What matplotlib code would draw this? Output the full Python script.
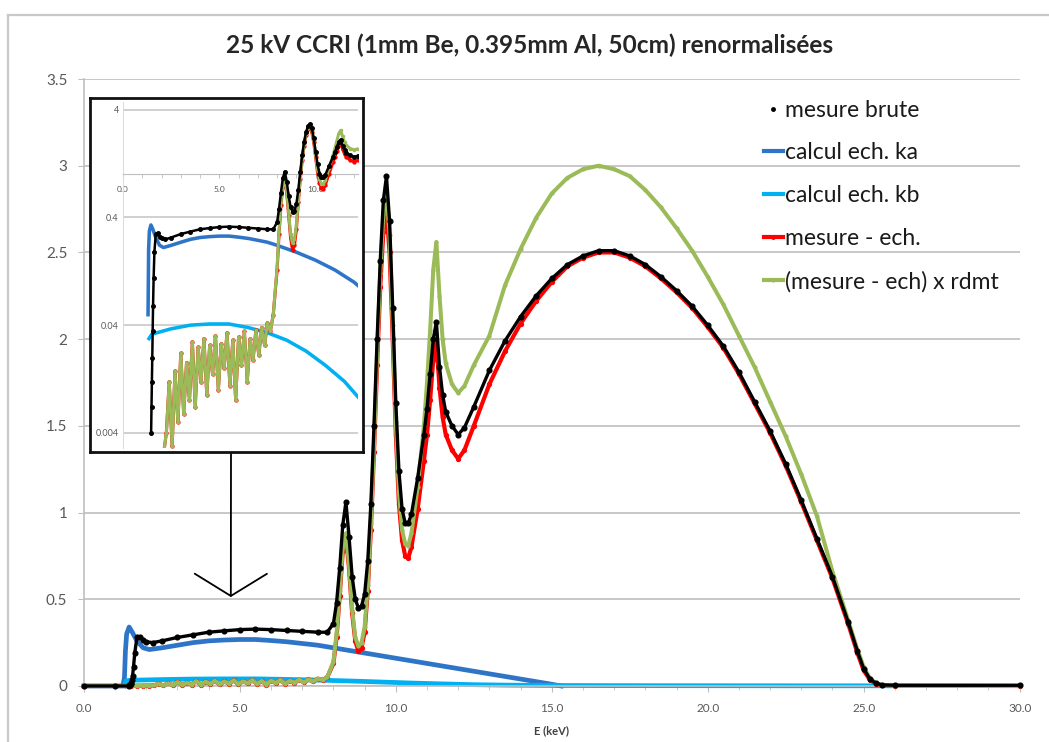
import matplotlib.pyplot as plt
from matplotlib.lines import Line2D
from matplotlib.ticker import MultipleLocator, FixedLocator

plt.rcParams['font.family'] = ['Lato', 'DejaVu Sans']

# ---- data (E in keV) ----
e_brute_low = [0.0, 1.0, 1.44, 1.46, 1.48, 1.5, 1.52, 1.54, 1.56, 1.59, 1.63, 1.7, 1.8, 1.9,
               2.0, 2.2, 2.5, 3.0, 3.5, 4.0, 4.5, 5.0, 5.5, 6.0, 6.5, 7.0, 7.5, 7.8]
v_brute_low = [0, 0, 0, 0.004, 0.007, 0.012, 0.02, 0.035, 0.06, 0.11, 0.19, 0.28, 0.285, 0.265,
               0.255, 0.25, 0.26, 0.28, 0.295, 0.31, 0.318, 0.325, 0.328, 0.325, 0.32, 0.315, 0.31, 0.31]

e_peak = [7.8, 8.0, 8.1, 8.2, 8.3, 8.4, 8.5, 8.6, 8.7, 8.8,
          8.9, 9.0, 9.1, 9.2, 9.3, 9.4, 9.5, 9.6, 9.7, 9.8,
          9.9, 10.0, 10.1, 10.2, 10.3, 10.4, 10.5, 10.7, 10.9, 11.0,
          11.1, 11.2, 11.3, 11.4, 11.5, 11.6, 11.8, 12.0, 12.2, 12.5,
          13.0, 13.5, 14.0, 14.5, 15.0, 15.5, 16.0, 16.5, 17.0, 17.5,
          18.0, 18.5, 19.0, 19.5, 20.0, 20.5, 21.0, 21.5, 22.0, 22.5,
          23.0, 23.5, 24.0, 24.5, 24.8, 25.0, 25.2, 25.4, 25.6, 26.0,
          30.0]

v_brute_peak = [0.36, 0.48, 0.68, 0.93, 1.06, 0.86, 0.63, 0.5, 0.45,
                0.46, 0.53, 0.72, 1.05, 1.5, 2.0, 2.45, 2.8, 2.94, 2.68,
                2.18, 1.63, 1.24, 1.02, 0.94, 0.94, 0.99, 1.2, 1.45, 1.6,
                1.8, 2.0, 2.1, 1.84, 1.68, 1.58, 1.5, 1.45, 1.49, 1.61,
                1.82, 1.99, 2.13, 2.25, 2.35, 2.43, 2.48, 2.51, 2.51, 2.48,
                2.43, 2.36, 2.28, 2.19, 2.08, 1.96, 1.81, 1.64, 1.47, 1.28,
                1.07, 0.85, 0.63, 0.37, 0.2, 0.1, 0.04, 0.015, 0.006, 0.004,
                0.004]

e_low = [0.0, 1.4, 1.5, 1.7, 1.9, 2.1,
         2.25, 2.4, 2.55, 2.7, 2.85, 3.0, 3.15, 3.3, 3.45, 3.6, 3.75, 3.9, 4.05,
         4.2, 4.35, 4.5, 4.65, 4.8, 4.95, 5.1, 5.25, 5.4, 5.55, 5.7, 5.85, 6.0,
         6.15, 6.3, 6.45, 6.6, 6.75, 6.9, 7.05, 7.2, 7.35, 7.5, 7.65]
v_low = [0, 0, 0.001, 0.0015, 0.002, 0.0025,
         0.004, 0.012, 0.003, 0.015, 0.005, 0.022, 0.006, 0.018, 0.008, 0.028, 0.007, 0.025, 0.012,
         0.030, 0.009, 0.026, 0.014, 0.032, 0.010, 0.027, 0.016, 0.034, 0.011, 0.029, 0.008, 0.031,
         0.017, 0.035, 0.012, 0.030, 0.019, 0.036, 0.021, 0.038, 0.026, 0.042, 0.035]

v_red_peak = [0.05, 0.13, 0.28, 0.52, 0.78, 0.86, 0.68, 0.42, 0.26, 0.20,
              0.22, 0.31, 0.55, 0.9, 1.35, 1.85, 2.3, 2.62, 2.74, 2.5,
              2.0, 1.45, 1.05, 0.84, 0.75, 0.74, 0.8, 1.02, 1.3, 1.45,
              1.65, 1.88, 1.99, 1.72, 1.55, 1.45, 1.36, 1.31, 1.36, 1.5,
              1.74, 1.93, 2.09, 2.22, 2.33, 2.42, 2.47, 2.5, 2.5, 2.47,
              2.42, 2.35, 2.27, 2.18, 2.07, 1.95, 1.8, 1.63, 1.46, 1.27,
              1.06, 0.84, 0.62, 0.36, 0.19, 0.09, 0.035, 0.012, 0.004, 0.001,
              0.0]

v_green_peak = [0.05, 0.14, 0.3, 0.55, 0.8, 0.88, 0.7, 0.44, 0.28, 0.23,
                0.25, 0.34, 0.58, 0.94, 1.4, 1.92, 2.38, 2.72, 2.85, 2.6,
                2.08, 1.52, 1.12, 0.9, 0.82, 0.81, 0.88, 1.15, 1.5, 1.75,
                2.05, 2.4, 2.56, 2.25, 2.0, 1.86, 1.74, 1.69, 1.73, 1.85,
                2.02, 2.31, 2.52, 2.7, 2.84, 2.93, 2.98, 3.0, 2.98, 2.94,
                2.86, 2.76, 2.64, 2.51, 2.36, 2.2, 2.02, 1.84, 1.64, 1.44,
                1.22, 0.98, 0.66, 0.38, 0.21, 0.11, 0.045, 0.015, 0.005, 0.001,
                0.0]

e_ka = [0.0, 1.25, 1.3, 1.33, 1.37, 1.45, 1.55, 1.7, 1.9, 2.1, 2.5, 3.0, 3.5, 4.0, 4.5,
        5.0, 5.5, 6.0, 6.5, 7.0, 7.5, 8.0, 9.0, 10.0, 11.0, 12.0, 13.0, 14.0, 15.0, 15.3]
v_ka = [0, 0, 0.05, 0.2, 0.3, 0.34, 0.31, 0.26, 0.22, 0.21, 0.22, 0.235, 0.25, 0.26, 0.265,
        0.268, 0.268, 0.262, 0.255, 0.245, 0.235, 0.22, 0.19, 0.16, 0.13, 0.10, 0.07, 0.04, 0.01, 0.0]

e_kb = [1.3, 1.35, 1.5, 2.5, 3.5, 4.5, 5.5, 6.5, 7.5, 8.5, 9.5, 10.5, 11.5, 12.5, 13.5,
        15.0, 17.0, 20.0, 23.0, 26.0]
v_kb = [0.0, 0.03, 0.033, 0.037, 0.04, 0.041, 0.041, 0.038, 0.034, 0.029, 0.023, 0.017, 0.012,
        0.0075, 0.005, 0.003, 0.002, 0.0015, 0.001, 0.001]

e_brute = e_brute_low + e_peak[1:]
v_brute = v_brute_low + v_brute_peak
e_meas = e_low + e_peak
v_red = v_low + v_red_peak
v_green = v_low + v_green_peak

c_black = '#000000'
c_ka = '#2E75C8'
c_kb = '#00B0F0'
c_red = '#FF0000'
c_green = '#9BBB59'
c_txt = '#595959'
c_grid = '#C4C4C4'


def draw_series(a, scale=1.0, clip=True):
    a.plot(e_ka, v_ka, color=c_ka, lw=3.4 * scale, zorder=2, clip_on=clip)
    a.plot(e_kb, v_kb, color=c_kb, lw=3.4 * scale, zorder=2, clip_on=clip)
    a.plot(e_meas, v_red, color=c_red, lw=3.0 * scale, marker='o', ms=2.8 * scale, zorder=3,
           clip_on=clip)
    a.plot(e_meas, v_green, color=c_green, lw=2.9 * scale, marker='o', ms=2.0 * scale, zorder=4,
           clip_on=clip)
    a.plot(e_brute, v_brute, color=c_black, lw=2.4 * scale, zorder=5, clip_on=clip)
    a.plot(e_brute, v_brute, ls='none', color=c_black, marker='o', ms=3.4 * scale, zorder=5,
           clip_on=clip)


fig = plt.figure(figsize=(10.49, 7.42), dpi=100)

# light frame around the chart area (only top and left edge visible)
fig.add_artist(Line2D([8 / 1049, 8 / 1049], [0, 1 - 15 / 742], transform=fig.transFigure,
                      color='#C8C8C8', lw=1.6))
fig.add_artist(Line2D([8 / 1049, 1], [1 - 15 / 742, 1 - 15 / 742], transform=fig.transFigure,
                      color='#C8C8C8', lw=1.6))

ax = fig.add_axes([0.080, 0.0755, 0.892, 0.818])
draw_series(ax, clip=False)
ax.set_xlim(0, 30)
ax.set_ylim(0, 3.5)
ax.set_yticks([0, 0.5, 1, 1.5, 2, 2.5, 3, 3.5])
ax.set_yticklabels(['0', '0.5', '1', '1.5', '2', '2.5', '3', '3.5'])
ax.set_xticks([0, 5, 10, 15, 20, 25, 30])
ax.set_xticklabels(['0.0', '5.0', '10.0', '15.0', '20.0', '25.0', '30.0'])
ax.xaxis.set_minor_locator(MultipleLocator(1))
ax.grid(axis='y', color=c_grid, lw=1.3, zorder=0)
ax.set_axisbelow(True)
for s in ['top', 'right']:
    ax.spines[s].set_visible(False)
for s in ['left', 'bottom']:
    ax.spines[s].set_color('#BFBFBF')
    ax.spines[s].set_linewidth(1.2)
ax.tick_params(axis='y', colors='#BFBFBF', labelcolor=c_txt, labelsize=11, length=4, pad=8)
ax.tick_params(axis='x', which='major', colors='#BFBFBF', labelcolor=c_txt, labelsize=8.5, length=4, pad=8)
ax.tick_params(axis='x', which='minor', colors='#BFBFBF', length=3)
ax.set_xlabel('E (keV)', fontsize=8, fontweight='bold', color='#404040', labelpad=8)

fig.text(0.505, 0.939, '25 kV CCRI (1mm Be, 0.395mm Al, 50cm) renormalisées',
         ha='center', va='center', fontsize=17.6, fontweight='bold', color='#262626')

handles = [
    Line2D([], [], color=c_black, marker='o', ms=2.5, ls='none'),
    Line2D([], [], color=c_ka, lw=3),
    Line2D([], [], color=c_kb, lw=3),
    Line2D([], [], color=c_red, lw=3, marker='o', ms=2.5),
    Line2D([], [], color=c_green, lw=3, marker='o', ms=2),
]
labels = ['mesure brute', 'calcul ech. ka', 'calcul ech. kb', 'mesure - ech.',
          '(mesure - ech) x rdmt']
leg = ax.legend(handles, labels, loc='upper left', bbox_to_anchor=(743 / 1049, 1 - 79 / 742),
                bbox_transform=fig.transFigure, frameon=False, fontsize=16.5,
                handlelength=0.85, handletextpad=0.1, labelspacing=0.95)
for t in leg.get_texts():
    t.set_color('#1A1A1A')

# arrow from inset to the low-energy region
ax.annotate('', xy=(4.71, 0.513), xytext=(231 / 1049, 1 - 452 / 742),
            textcoords='figure fraction',
            arrowprops=dict(arrowstyle='->,head_length=1.6,head_width=2.6', lw=1.3,
                            color='black', mutation_scale=10, shrinkA=0, shrinkB=0))

# inset frame
frame = fig.add_axes([90 / 1049, 1 - 452 / 742, 273 / 1049, 354 / 742])
frame.set_xticks([])
frame.set_yticks([])
frame.set_facecolor('white')
for s in frame.spines.values():
    s.set_linewidth(2)
    s.set_color('#111111')

# inset log plot
ins = fig.add_axes([123 / 1049, 1 - 448 / 742, 235 / 1049, 346 / 742])
ins.patch.set_alpha(0)
ins.set_yscale('log', nonpositive='mask')
draw_series(ins, scale=0.75)
ins.set_xlim(0, 12.2)
ins.set_ylim(0.0029, 4.7)
ins.yaxis.set_major_locator(FixedLocator([0.004, 0.04, 0.4, 4]))
ins.yaxis.set_minor_locator(FixedLocator([]))
ins.set_yticklabels(['0.004', '0.04', '0.4', '4'])
ins.set_xticks([0, 5, 10])
ins.set_xticklabels(['0.0', '5.0', '10.0'])
ins.xaxis.set_minor_locator(MultipleLocator(1))
ins.grid(axis='y', which='major', color=c_grid, lw=1.1, zorder=0)
ins.set_axisbelow(True)
ins.spines['bottom'].set_position(('data', 1))
ins.spines['bottom'].set_color('#BFBFBF')
ins.spines['left'].set_color('#DDDDDD')
for s in ['top', 'right']:
    ins.spines[s].set_visible(False)
ins.tick_params(axis='x', which='both', colors='#BFBFBF', labelcolor=c_txt, labelsize=6,
                length=3, pad=5)
ins.tick_params(axis='y', colors='#BFBFBF', labelcolor=c_txt, labelsize=6.5, length=0, pad=3)

fig.savefig('out.png', dpi=100)
